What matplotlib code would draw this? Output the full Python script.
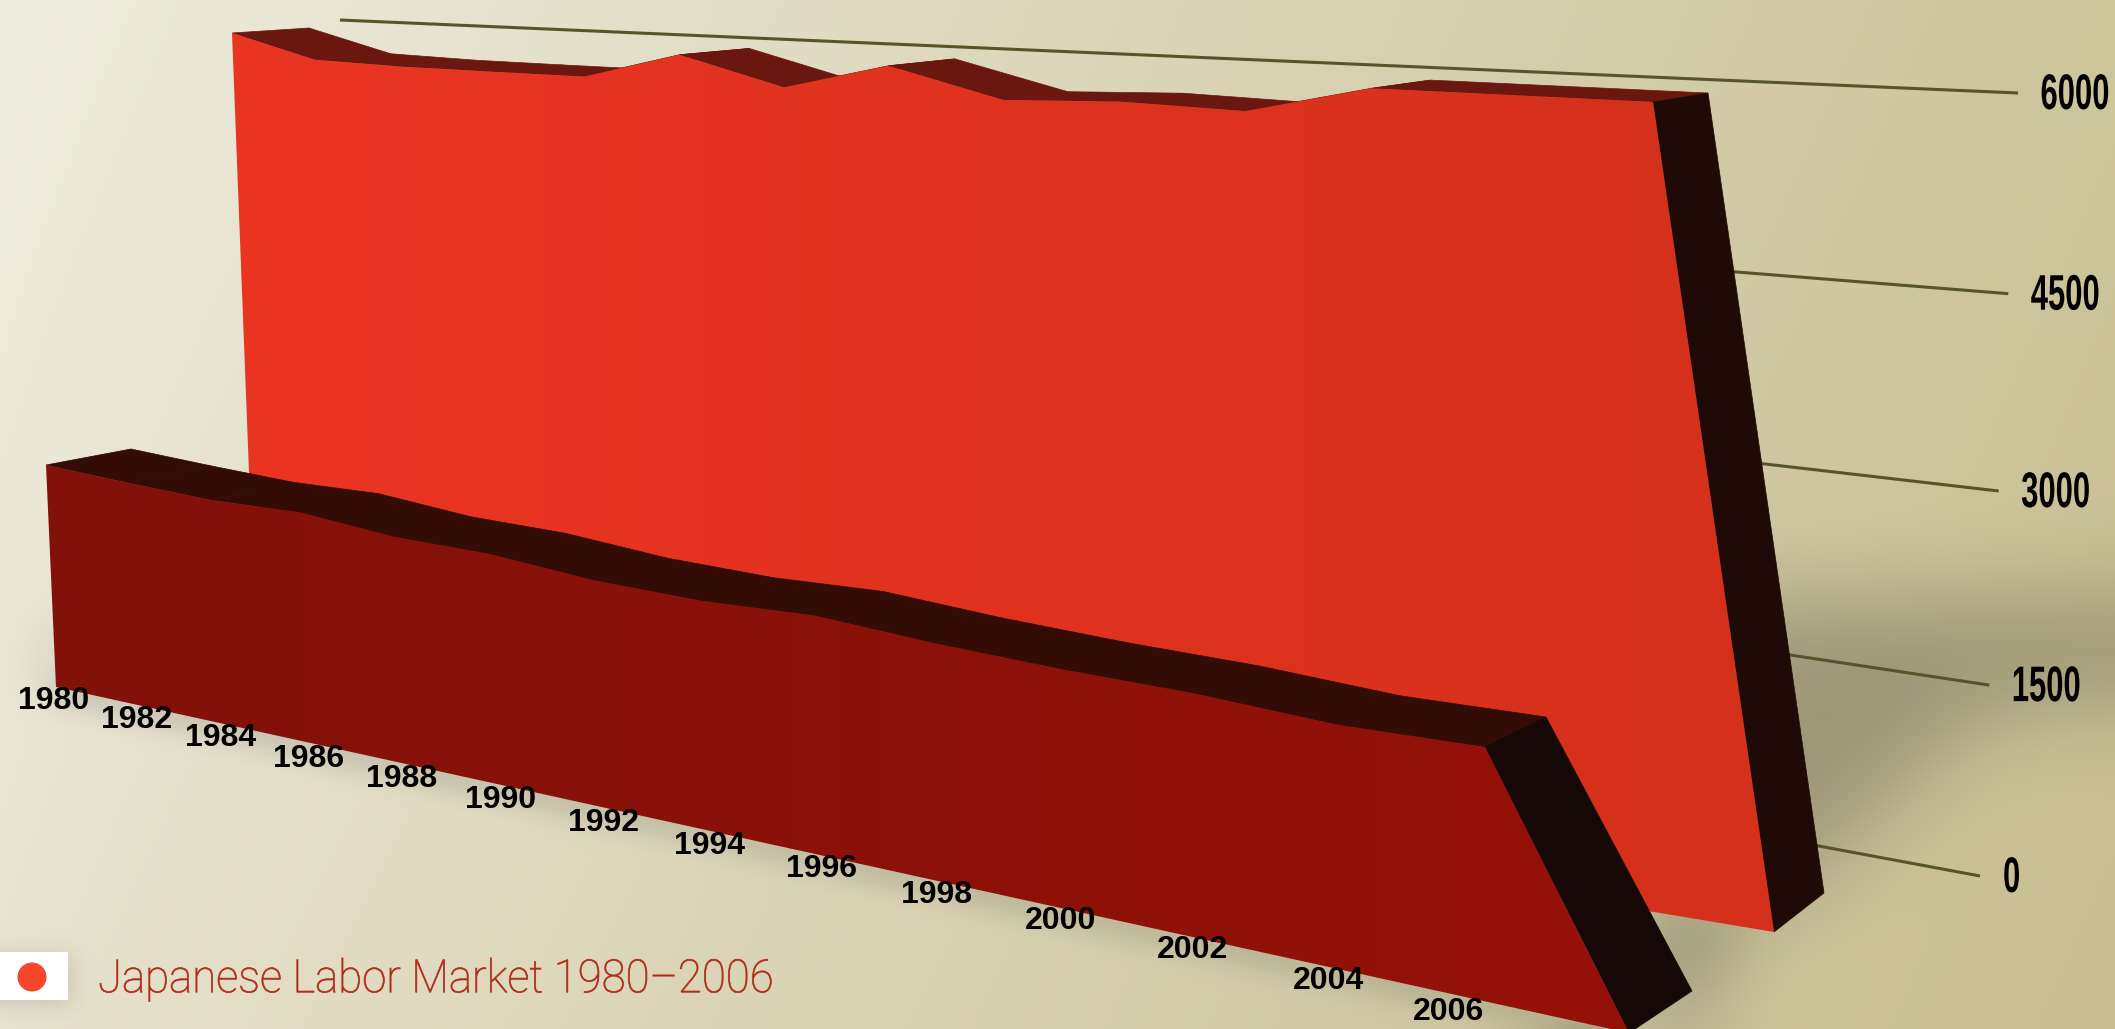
import numpy as np
import matplotlib
matplotlib.use("Agg")
import matplotlib.pyplot as plt
from matplotlib.patches import Polygon, Rectangle, Ellipse
from matplotlib.path import Path
from matplotlib.patheffects import AbstractPathEffect
from matplotlib.transforms import Affine2D
from matplotlib.colors import to_rgb

# data
years = [1980, 1982, 1984, 1986, 1988, 1990, 1992, 1994, 1996, 1998, 2000, 2002, 2004, 2006]
back_values = [6000, 5781, 5760, 5757, 5757, 6000, 5756, 5992, 5748, 5786, 5762, 6000, 6000, 6000]
front_values = [1600, 1586, 1579, 1618, 1573, 1584, 1541, 1546, 1600, 1570, 1563, 1576, 1554, 1600]
value_ticks = [0, 1500, 3000, 4500, 6000]
title = "Japanese Labor Market 1980\u20132006"

W, H = 2115, 1029
BACK_REF = 6000.0
FRONT_REF = 1600.0


def homography(bl, br, tl, tr):
    # maps unit square (u along years, w up the values) to picture pixels
    src = [(0, 0), (1, 0), (0, 1), (1, 1)]
    dst = [bl, br, tl, tr]
    A, b = [], []
    for (u, w), (x, y) in zip(src, dst):
        A.append([u, w, 1, 0, 0, 0, -u * x, -w * x])
        A.append([0, 0, 0, u, w, 1, -u * y, -w * y])
        b += [x, y]
    return np.append(np.linalg.solve(np.array(A, float), np.array(b, float)), 1).reshape(3, 3)


def project(M, u, w):
    p = M @ np.array([np.asarray(u, float), np.asarray(w, float), np.ones_like(u, dtype=float)])
    return np.column_stack([p[0] / p[2], p[1] / p[2]])


def box_blur(a, r):
    # three box passes, close enough to a gaussian
    k = np.ones(2 * r + 1) / (2 * r + 1)
    for _ in range(3):
        a = np.apply_along_axis(lambda c: np.convolve(np.pad(c, r, mode="edge"), k, "valid"), 0, a)
        a = np.apply_along_axis(lambda c: np.convolve(np.pad(c, r, mode="edge"), k, "valid"), 1, a)
    return a


def make_background():
    step = 3
    xs = np.arange(0, W, step) + step / 2
    ys = np.arange(0, H, step) + step / 2
    X, Y = np.meshgrid(xs, ys)
    gx = (X / W) ** 0.85
    gy = Y / H
    tl, tr = np.array(to_rgb("#f0eee2")), np.array(to_rgb("#cdc59c"))
    bl, br = np.array(to_rgb("#e8e3cf")), np.array(to_rgb("#c7be91"))
    img = np.empty(X.shape + (3,))
    for c in range(3):
        img[..., c] = (tl[c] * (1 - gx) + tr[c] * gx) * (1 - gy) + (bl[c] * (1 - gx) + br[c] * gx) * gy
    pts = np.column_stack([X.ravel(), Y.ravel()])
    shadows = [
        ([(1700, 600), (2200, 600), (2200, 680), (1980, 715), (1870, 820), (1780, 900), (1700, 900)], 14, 0.23),
        ([(1640, 890), (1740, 925), (1700, 1000), (1660, 1029)], 12, 0.30),
        ([(56, 680), (1640, 1030), (1640, 1044), (56, 696)], 4, 0.26),
        ([(44, 620), (60, 620), (60, 695), (44, 695)], 6, 0.14),
        ([(0, 955), (72, 955), (72, 1005), (0, 1005)], 3, 0.12),
    ]
    for poly, r, strength in shadows:
        mask = Path(poly).contains_points(pts).reshape(X.shape).astype(float)
        mask = box_blur(mask, r)
        img *= (1 - strength * mask)[..., None]
    return np.clip(img, 0, 1)


class Squeeze(AbstractPathEffect):
    # condensed look, no condensed font installed. keeps the glyphs inside the text's own box
    def __init__(self, sx, pivot="left", stroke=0.0):
        super().__init__()
        self.sx = sx
        self.pivot = pivot
        self.stroke = stroke

    def draw_path(self, renderer, gc, tpath, affine, rgbFace=None):
        x0 = tpath.vertices[:, 0].max() if self.pivot == "right" else 0.0
        squeeze = Affine2D().translate(-x0, 0).scale(self.sx, 1).translate(x0, 0)
        if self.stroke:
            gc.set_foreground(rgbFace)
            gc.set_linewidth(self.stroke)
        renderer.draw_path(gc, tpath, squeeze + affine, rgbFace)


def gradient_face(ax, poly, left, right, zorder):
    x0, x1 = poly[:, 0].min(), poly[:, 0].max()
    y0, y1 = poly[:, 1].min(), poly[:, 1].max()
    c0, c1 = np.array(to_rgb(left)), np.array(to_rgb(right))
    t = np.linspace(0, 1, 256)[None, :, None]
    im = ax.imshow(c0 + (c1 - c0) * t, extent=(x0, x1, y1, y0), aspect="auto", zorder=zorder)
    clip = Polygon(poly, closed=True, transform=ax.transData, fc="none", ec="none")
    ax.add_patch(clip)
    im.set_clip_path(clip)


def draw_wall(ax, values, ref, face, rear, warp, top_color, side_color, left, right, z):
    u = (np.array(years) - years[0]) / (years[-1] - years[0])
    u = warp * u / (1 + (warp - 1) * u)  # foreshortening along the wall
    w = np.array(values) / ref
    f_top = project(face, u, w)
    r_top = project(rear, u, w)
    f_base = project(face, u[[-1, 0]], np.zeros(2))
    r_base = project(rear, u[[-1]], np.zeros(1))
    for i in range(len(u) - 1):
        ax.add_patch(Polygon([f_top[i], f_top[i + 1], r_top[i + 1], r_top[i]], closed=True,
                             fc=top_color, ec=top_color, lw=0.5, zorder=z))
    ax.add_patch(Polygon([f_top[-1], f_base[0], r_base[0], r_top[-1]], closed=True,
                         fc=side_color, ec=side_color, lw=0.5, zorder=z + 0.1))
    gradient_face(ax, np.vstack([f_top, f_base]), left, right, z + 0.2)


fig = plt.figure(figsize=(W / 100, H / 100), dpi=100)
ax = fig.add_axes([0, 0, 1, 1])
ax.imshow(make_background(), extent=(0, W, H, 0), aspect="auto", zorder=0)

# value axis, lines run behind the walls
grid = homography((352, 573), (1980, 876), (340, 20), (2018, 93))
for v in value_ticks:
    line = project(grid, np.array([0.0, 1.0]), np.full(2, v / 6000.0))
    ax.plot(line[:, 0], line[:, 1], color="#55552a", lw=2.2, solid_capstyle="butt", zorder=1)
    ax.text(line[1, 0] + 24 + 17 * len(str(v)), line[1, 1] + 3, str(v), ha="right", va="center", color="black",
            family="Liberation Sans", weight="bold", fontsize=36,
            path_effects=[Squeeze(0.62, pivot="right")], zorder=8)

back_face = homography((257, 679), (1774, 932), (232, 33), (1653, 102))
back_rear = homography((330, 650), (1824, 893), (309, 28), (1708, 93))
draw_wall(ax, back_values, BACK_REF, back_face, back_rear, 0.928, "#6a170f", "#200a07", "#eb3523", "#d4301b", 2)

front_face = homography((56, 687), (1629, 1033), (46, 465), (1485, 747))
front_rear = homography((141, 659), (1692, 991), (131, 449), (1546, 717))
draw_wall(ax, front_values, FRONT_REF, front_face, front_rear, 0.828, "#330c05", "#150806", "#82120a", "#951108", 4)

# year labels sit along the floor edge
label_x = [54, 137, 221, 309, 402, 501, 603, 709, 821, 937, 1061, 1192, 1329, 1449]
label_y = [701, 720, 738, 759, 779, 800, 823, 846, 869, 895, 921, 950, 981, 1012]
for yr, lx, ly in zip(years, label_x, label_y):
    ax.text(lx, ly, str(yr), ha="center", va="center", color="black",
            family="Liberation Sans", weight="bold", fontsize=23, zorder=8)

# legend
ax.add_patch(Rectangle((-5, 952), 73, 48, fc="white", ec="none", zorder=8))
ax.add_patch(Ellipse((32, 977), 29, 29, fc="#f5452a", ec="none", zorder=9))
ax.text(98, 979, title, ha="left", va="center", color="#b02a18", family="Roboto",
        weight="light", fontsize=33, path_effects=[Squeeze(0.955, stroke=0.5)], zorder=8)

ax.set_xlim(0, W)
ax.set_ylim(H, 0)
ax.axis("off")
fig.savefig("out.png", dpi=100)
